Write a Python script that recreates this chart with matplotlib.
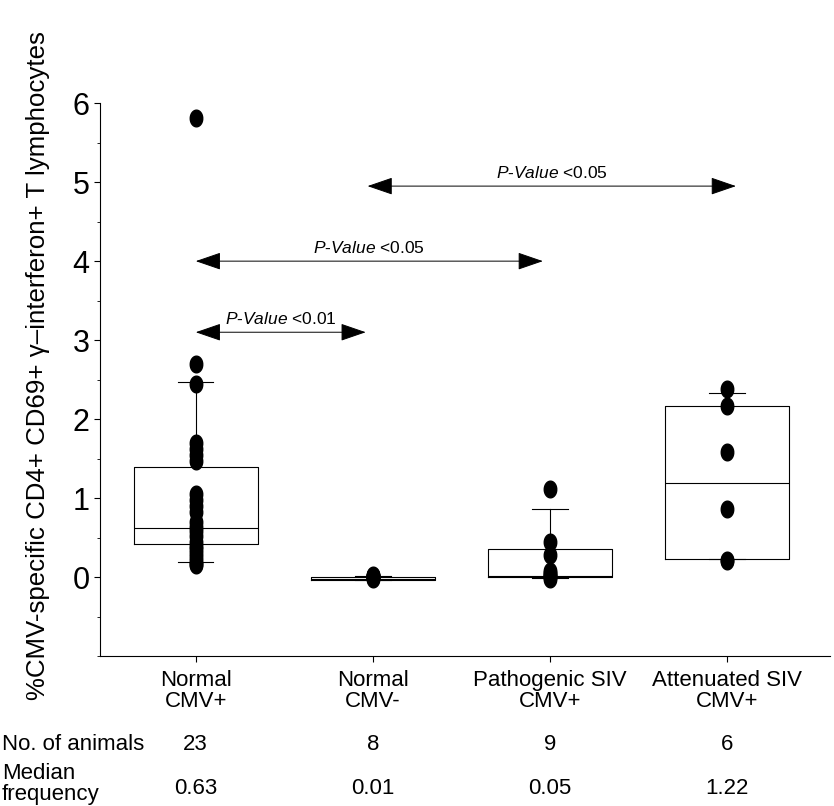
import numpy as np
import matplotlib
matplotlib.use("Agg")
from matplotlib import pyplot as plt
from matplotlib.ticker import MultipleLocator
from matplotlib.transforms import blended_transform_factory

plt.rcParams["font.family"] = ["Liberation Sans", "DejaVu Sans"]
plt.rcParams["mathtext.fontset"] = "custom"
plt.rcParams["mathtext.it"] = "Liberation Sans:italic"
plt.rcParams["mathtext.rm"] = "Liberation Sans"

# groups
groups = ["Normal\nCMV+", "Normal\nCMV-", "Pathogenic SIV\nCMV+", "Attenuated SIV\nCMV+"]
n_animals = ["23", "8", "9", "6"]
median_freq = ["0.63", "0.01", "0.05", "1.22"]

# individual animals
normal_pos = [5.81, 2.70, 2.45, 1.70, 1.62, 1.55, 1.47, 1.05, 0.98, 0.90, 0.83,
              0.70, 0.63, 0.58, 0.52, 0.45, 0.40, 0.35, 0.30, 0.25, 0.20, 0.17, 0.15]
normal_neg = [0.03, 0.02, 0.01, 0.01, 0.0, 0.0, -0.01, -0.02]
patho_pos = [1.12, 0.45, 0.28, 0.08, 0.05, 0.03, 0.01, 0.0, -0.02]
atten_pos = [2.38, 2.16, 1.58, 0.86, 0.22, 0.20]

# box summaries as drawn
q1 = [0.42, -0.04, 0.0, 0.23]
med = [0.62, -0.03, 0.02, 1.19]
q3 = [1.39, 0.0, 0.35, 2.17]
whislo = [0.19, -0.04, -0.01, 0.23]
whishi = [2.47, 0.01, 0.86, 2.33]

# significance bars
sig_left = [1.0, 1.0, 1.97]
sig_right = [1.96, 2.96, 4.05]
sig_y = [3.1, 4.0, 4.95]
sig_p = ["<0.01", "<0.05", "<0.05"]

fig = plt.figure(figsize=(8.34, 8.06), dpi=100)
ax = fig.add_axes([0.12, 0.186, 0.875, 0.686])

pos = [1, 2, 3, 4]
stats = []
for i in range(4):
    stats.append(dict(q1=q1[i], med=med[i], q3=q3[i], whislo=whislo[i], whishi=whishi[i]))
ax.bxp(stats, positions=pos, widths=0.7, capwidths=0.2, showfliers=False,
       boxprops=dict(color="black", lw=0.8),
       medianprops=dict(color="black", lw=0.8),
       whiskerprops=dict(color="black", lw=0.8),
       capprops=dict(color="black", lw=0.8))

# ellipse marker
t = np.linspace(0, 2 * np.pi, 40)
ell = np.column_stack([0.75 * np.cos(t), np.sin(t)])

for p, vals in zip(pos, [normal_pos, normal_neg, patho_pos, atten_pos]):
    ax.plot([p] * len(vals), vals, ls="none", marker=ell, ms=12,
            color="black", zorder=5)

for x1, x2, y, pv in zip(sig_left, sig_right, sig_y, sig_p):
    ax.annotate("", xy=(x2, y), xytext=(x1, y),
                arrowprops=dict(arrowstyle="<|-|>,head_length=1.6,head_width=0.55",
                                color="black", lw=0.7, shrinkA=0, shrinkB=0))
    ax.text((x1 + x2) / 2, y + 0.06, "$P$-$Value$ " + pv, ha="center", va="bottom",
            fontsize=12.5)

ax.set_xlim(0.46, 4.58)
ax.set_ylim(-1, 6)
ax.set_yticks([0, 1, 2, 3, 4, 5, 6])
ax.yaxis.set_minor_locator(MultipleLocator(0.5))
ax.tick_params(axis="y", labelsize=22, length=4, width=0.8)
ax.tick_params(axis="y", which="minor", length=2, width=0.6)
ax.set_xticks(pos)
ax.set_xticklabels(groups, fontsize=16, linespacing=1.0)
ax.tick_params(axis="x", length=4, width=0.8, pad=6)
ax.spines["top"].set_visible(False)
ax.spines["right"].set_visible(False)
ax.spines["left"].set_linewidth(0.8)
ax.spines["bottom"].set_linewidth(0.8)

ax.set_ylabel("%CMV-specific CD4+ CD69+ \u03b3\u2013interferon+ T lymphocytes", fontsize=18.6)
ax.yaxis.set_label_coords(-0.068, 0.526)

tr = blended_transform_factory(ax.transData, fig.transFigure)
fig.text(0.002, 1 - 745 / 806, "No. of animals", fontsize=16, va="center", ha="left")
fig.text(0.002, 1 - 784 / 806, "Median\nfrequency", fontsize=16, va="center", ha="left",
         linespacing=1.0)
for p, n, m in zip(pos, n_animals, median_freq):
    ax.text(p, 1 - 745 / 806, n, transform=tr, fontsize=16, ha="center", va="center")
    ax.text(p, 1 - 789 / 806, m, transform=tr, fontsize=16, ha="center", va="center")

fig.savefig("out.png", dpi=100)
